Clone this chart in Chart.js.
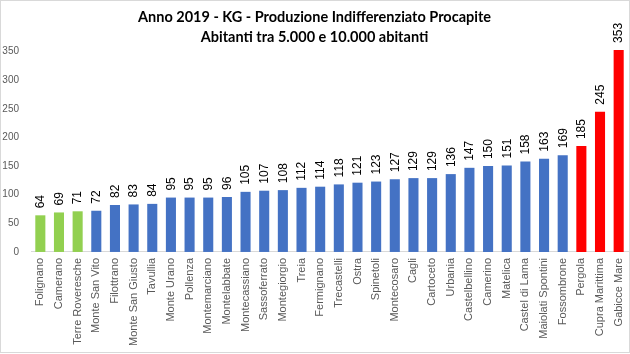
<!DOCTYPE html>
<html>
<head>
<meta charset="utf-8">
<script src="https://cdn.jsdelivr.net/npm/chart.js@4/dist/chart.umd.min.js"></script>
<style>
  html, body { margin: 0; padding: 0; background: #fff; }
  #wrap { position: absolute; left: 0; top: 0; width: 630px; height: 353px; box-sizing: border-box; border: 1px solid #d9d9d9; }
  canvas { display: block; }
</style>
</head>
<body>
<div id="wrap"><canvas id="c"></canvas></div>
<script>
const titleLines = ["Anno 2019 - KG - Produzione Indifferenziato Procapite", "Abitanti tra 5.000 e 10.000 abitanti"];
const comuni = ["Folignano","Camerano","Terre Roveresche","Monte San Vito","Filottrano","Monte San Giusto","Tavullia","Monte Urano","Pollenza","Montemarciano","Montelabbate","Montecassiano","Sassoferrato","Montegiorgio","Treia","Fermignano","Trecastelli","Ostra","Spinetoli","Montecosaro","Cagli","Cartoceto","Urbania","Castelbellino","Camerino","Matelica","Castel di Lama","Maiolati Spontini","Fossombrone","Pergola","Cupra Marittima","Gabicce Mare"];
const kgProcapite = [64,69,71,72,82,83,84,95,95,95,96,105,107,108,112,114,118,121,123,127,129,129,136,147,150,151,158,163,169,185,245,353];
const fascia = ["migliori","migliori","migliori","medi","medi","medi","medi","medi","medi","medi","medi","medi","medi","medi","medi","medi","medi","medi","medi","medi","medi","medi","medi","medi","medi","medi","medi","medi","medi","peggiori","peggiori","peggiori"];
const yTicks = [0,50,100,150,200,250,300,350];

const fasciaColor = { migliori: "#92D050", medi: "#4472C4", peggiori: "#FF0000" };

const valueLabels = {
  id: "valueLabels",
  afterDatasetsDraw(chart) {
    const ctx = chart.ctx;
    const meta = chart.getDatasetMeta(0);
    ctx.save();
    ctx.fillStyle = "#000";
    ctx.font = "12px 'Liberation Sans', Arial, sans-serif";
    ctx.textAlign = "left";
    ctx.textBaseline = "middle";
    meta.data.forEach((bar, i) => {
      ctx.save();
      ctx.translate(bar.x + 0.5, bar.y - 7);
      ctx.rotate(-Math.PI / 2);
      ctx.fillText(String(kgProcapite[i]), 0, 0);
      ctx.restore();
    });
    ctx.restore();
  }
};

new Chart(document.getElementById("c"), {
  type: "bar",
  data: {
    labels: comuni,
    datasets: [{
      data: kgProcapite,
      backgroundColor: fascia.map(f => fasciaColor[f]),
      borderWidth: 0,
      barPercentage: 0.54,
      categoryPercentage: 1.0,
      clip: false
    }]
  },
  options: {
    responsive: true,
    maintainAspectRatio: false,
    animation: false,
    events: [],
    layout: { padding: { left: 0, right: 1, top: 0, bottom: 0 } },
    plugins: {
      legend: { display: false },
      tooltip: { enabled: false },
      title: {
        display: true,
        text: titleLines,
        color: "#000",
        font: { family: "Lato, 'Open Sans', sans-serif", size: 14.5, weight: "bold", lineHeight: 1.4 },
        padding: { top: 6, bottom: 4 }
      }
    },
    scales: {
      x: {
        grid: { display: false, drawTicks: false },
        border: { display: true, color: "#d9d9d9" },
        afterFit(axis) { axis.paddingLeft = 0; axis.paddingRight = 0; },
        ticks: {
          color: "#595959",
          font: { family: "'Liberation Sans', Arial, sans-serif", size: 11 },
          maxRotation: 90, minRotation: 90,
          autoSkip: false,
          padding: 6
        }
      },
      y: {
        min: 0, max: 350,
        afterBuildTicks(axis) { axis.ticks = yTicks.map(v => ({ value: v })); },
        afterFit(axis) { axis.width = 30; },
        grid: { display: false, drawTicks: false },
        border: { display: false },
        ticks: {
          color: "#595959",
          font: { family: "'Liberation Sans', Arial, sans-serif", size: 10 },
          padding: 12
        }
      }
    }
  },
  plugins: [valueLabels]
});
</script>
</body>
</html>
